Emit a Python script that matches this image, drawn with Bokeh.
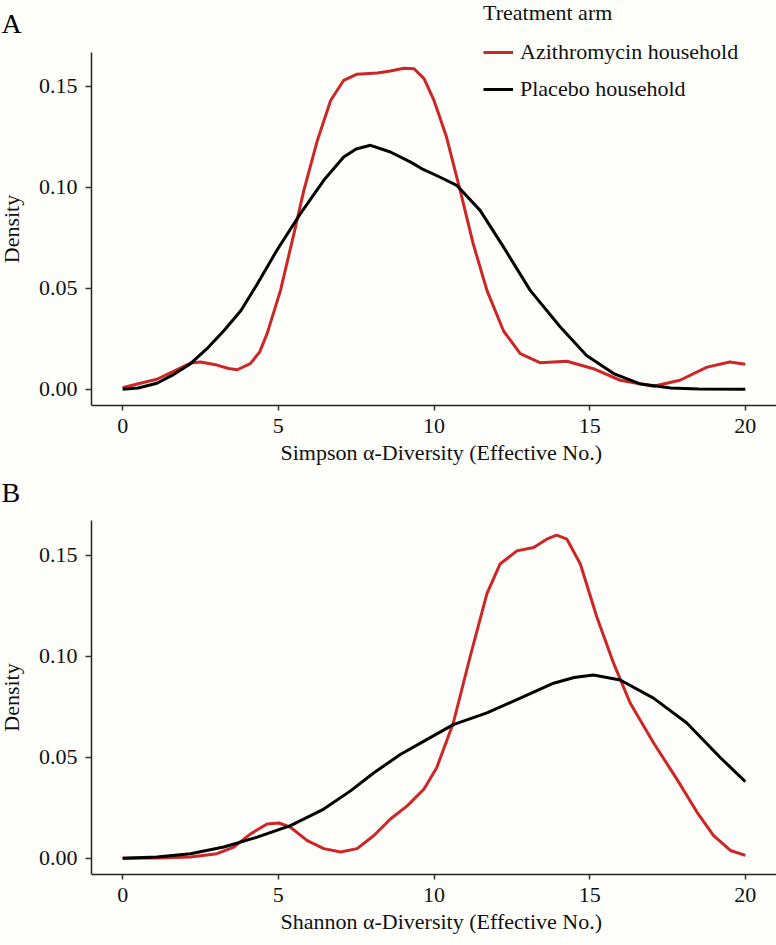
from bokeh.plotting import figure
from bokeh.models import Range1d, FixedTicker, NumeralTickFormatter, Legend, LegendItem, Label, Title
from bokeh.layouts import column
from bokeh.embed import file_html
from bokeh.resources import INLINE

FONT = "Liberation Serif"
RED = "#CD2626"
BLACK = "#000000"
BG = "#FEFEFB"

x_ticks = [0, 5, 10, 15, 20]
y_ticks = [0.0, 0.05, 0.10, 0.15]
series_names = ["Azithromycin household", "Placebo household"]
legend_title = "Treatment arm"

# Panel A: Simpson alpha-diversity density
simpson_azi_x = [0, 0.5, 1.1, 1.6, 2.18, 2.5, 3.03, 3.4, 3.68, 4.1, 4.4, 4.64, 5.07, 5.5, 5.82,
                 6.25, 6.68, 7.1, 7.53, 8.18, 8.6, 9.03, 9.36, 9.68, 10.0, 10.4, 10.84, 11.26,
                 11.7, 12.23, 12.77, 13.4, 14.27, 15.12, 15.98, 17.05, 17.9, 18.77, 19.5, 20]
simpson_azi_y = [0.0008, 0.0028, 0.005, 0.0086, 0.013, 0.0135, 0.012, 0.0103, 0.0097, 0.0127,
                 0.0185, 0.0276, 0.049, 0.077, 0.0985, 0.123, 0.143, 0.153, 0.156, 0.1566,
                 0.1576, 0.159, 0.1587, 0.1538, 0.143, 0.125, 0.0985, 0.072, 0.049, 0.029,
                 0.0177, 0.0132, 0.0139, 0.0102, 0.0045, 0.0015, 0.0045, 0.011, 0.0135, 0.0124]
simpson_pla_x = [0, 0.5, 1.1, 1.6, 2.18, 2.7, 3.25, 3.8, 4.32, 4.96, 5.71, 6.46, 7.1, 7.5, 7.96,
                 8.6, 9.25, 9.6, 10.2, 10.73, 11.48, 12.23, 13.09, 14.05, 14.9, 15.77, 16.6,
                 17.6, 18.5, 20]
simpson_pla_y = [0.0, 0.0007, 0.003, 0.007, 0.0127, 0.02, 0.029, 0.039, 0.052, 0.069, 0.087,
                 0.1035, 0.115, 0.119, 0.1208, 0.1175, 0.1125, 0.1093, 0.105, 0.101, 0.0886,
                 0.0705, 0.049, 0.031, 0.0168, 0.0078, 0.0028, 0.0007, 0.0002, 0.0]

# Panel B: Shannon alpha-diversity density
shannon_azi_x = [0, 1.1, 2.18, 3.03, 3.57, 4.1, 4.64, 5.02, 5.39, 5.93, 6.46, 7.0, 7.53, 8.07,
                 8.6, 9.14, 9.68, 10.09, 10.62, 11.16, 11.7, 12.12, 12.66, 13.2, 13.62, 13.94,
                 14.27, 14.7, 15.23, 15.77, 16.3, 17.05, 17.8, 18.45, 18.98, 19.52, 20]
shannon_azi_y = [0.0, 0.0002, 0.0007, 0.0023, 0.0056, 0.012, 0.017, 0.0175, 0.0154, 0.0088,
                 0.0048, 0.0031, 0.0048, 0.0113, 0.0195, 0.026, 0.0343, 0.045, 0.067, 0.0998,
                 0.131, 0.1457, 0.1522, 0.1539, 0.158, 0.160, 0.158, 0.1457, 0.1195, 0.0965,
                 0.0769, 0.0572, 0.0392, 0.0228, 0.0113, 0.0039, 0.0015]
shannon_pla_x = [0, 1.1, 2.18, 3.25, 4.32, 5.39, 6.46, 7.32, 8.07, 8.93, 9.68, 10.62, 11.7,
                 12.77, 13.84, 14.5, 15.12, 15.98, 17.05, 18.12, 19.2, 20]
shannon_pla_y = [0.0, 0.0007, 0.0023, 0.0056, 0.0105, 0.0162, 0.0244, 0.0334, 0.0424, 0.0515,
                 0.058, 0.0662, 0.072, 0.0793, 0.0867, 0.0895, 0.0908, 0.0883, 0.0793, 0.067,
                 0.0498, 0.038]

W = 776
X_AXIS_AT = -1.0
X_END = 21.0
AXIS_PX = 91          # pixel column of the y axis line
PX_X = (W - AXIS_PX) / (X_END - X_AXIS_AT)
X_START = X_AXIS_AT - AXIS_PX / PX_X
Y_START = -0.008
PX_Y = 2020.0


def make_panel(xlabel, letter, y_axis_end, fh, bottom):
    y_end = Y_START + fh / PX_Y
    p = figure(frame_width=W, frame_height=fh, min_border_left=0, min_border_right=0,
               min_border_top=0, min_border_bottom=bottom,
               x_range=Range1d(X_START, X_END), y_range=Range1d(Y_START, y_end),
               output_backend="svg", toolbar_location=None,
               background_fill_color=BG, border_fill_color=BG, outline_line_color=None)
    p.grid.visible = False
    p.xaxis.ticker = FixedTicker(ticks=x_ticks)
    p.yaxis.ticker = FixedTicker(ticks=y_ticks)
    p.yaxis.formatter = NumeralTickFormatter(format="0.00")
    p.xaxis.bounds = (X_AXIS_AT, X_END)
    p.yaxis.bounds = (Y_START, y_axis_end)
    p.yaxis.fixed_location = X_AXIS_AT
    p.yaxis.axis_label = "Density"
    for ax in (p.xaxis, p.yaxis):
        ax.axis_line_color = "#222222"
        ax.axis_line_width = 1.5
        ax.major_tick_line_color = "#333333"
        ax.major_tick_line_width = 1.5
        ax.major_tick_in = 0
        ax.minor_tick_line_color = None
        ax.major_label_text_font = FONT
        ax.major_label_text_font_size = "22px"
        ax.major_label_text_color = "#111111"
        ax.axis_label_text_font = FONT
        ax.axis_label_text_font_size = "22px"
        ax.axis_label_text_font_style = "normal"
        ax.axis_label_text_color = "#111111"
    p.xaxis.major_tick_out = 5
    p.yaxis.major_tick_out = 6
    p.xaxis.major_label_standoff = 8
    p.yaxis.major_label_standoff = 8
    p.yaxis.axis_label_standoff = 12
    # x-axis title, centred under the axis line (not the whole frame)
    p.add_layout(Title(text=xlabel, align="left", offset=280, standoff=4,
                       text_font=FONT, text_font_size="22px", text_font_style="normal",
                       text_color="#111111"), "below")
    p.add_layout(Label(x=1, y=382, x_units="screen", y_units="screen", text=letter,
                       text_font=FONT, text_font_size="28px", text_color="#000000",
                       text_align="left", text_baseline="alphabetic"))
    return p


pA = make_panel("Simpson \u03b1-Diversity (Effective No.)", "A", 0.1668, 405, 66)
rA1 = pA.line(simpson_azi_x, simpson_azi_y, line_color=RED, line_width=3, line_join="round")
rA2 = pA.line(simpson_pla_x, simpson_pla_y, line_color=BLACK, line_width=3, line_join="round")

legend = Legend(items=[LegendItem(label=series_names[0], renderers=[rA1]),
                       LegendItem(label=series_names[1], renderers=[rA2])],
                location=(483, 301), title=legend_title,
                title_text_font=FONT, title_text_font_size="22px", title_text_font_style="normal",
                title_text_color="#111111", title_standoff=11,
                label_text_font=FONT, label_text_font_size="22px", label_text_color="#111111",
                glyph_width=30, glyph_height=30, label_height=30, label_standoff=7, spacing=7,
                padding=0, margin=0, border_line_color=None, background_fill_alpha=0)
pA.add_layout(legend)

pB = make_panel("Shannon \u03b1-Diversity (Effective No.)", "B", 0.1672, 403, 71)
pB.line(shannon_azi_x, shannon_azi_y, line_color=RED, line_width=3, line_join="round")
pB.line(shannon_pla_x, shannon_pla_y, line_color=BLACK, line_width=3, line_join="round")

layout = column(pA, pB, spacing=0)
open("out.html", "w").write(file_html(layout, INLINE))
